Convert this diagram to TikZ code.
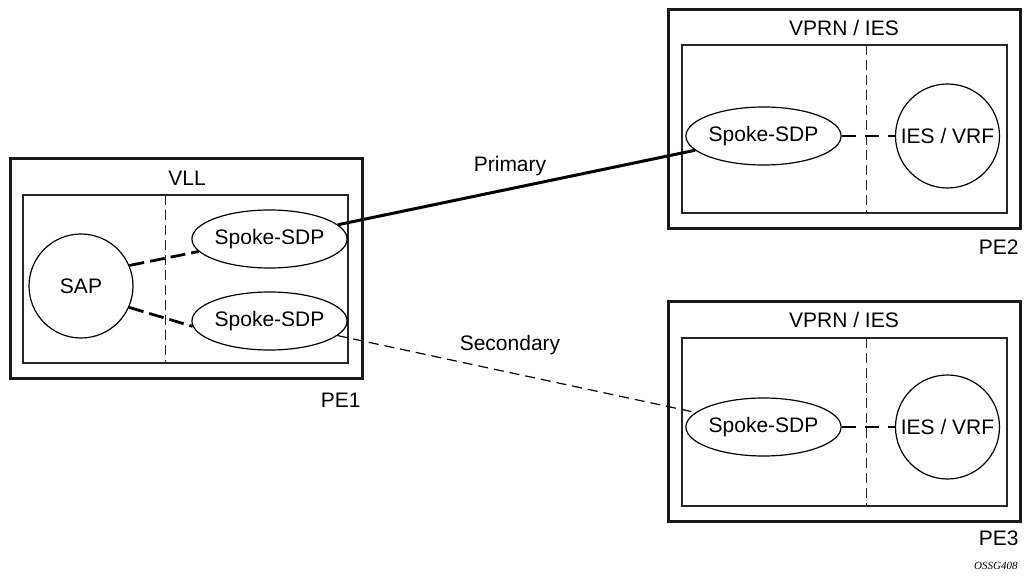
\documentclass[tikz,border=0pt]{standalone}
\usepackage{fontspec}
\setmainfont{Liberation Sans}
\newfontfamily\tagfont{Liberation Serif}
\usepackage{tikz}
\usetikzlibrary{calc}
\usetikzlibrary{shapes.geometric}
\newcommand{\BoxW}{352}
\newcommand{\BoxH}{219}
\tikzset{
  pebox/.style={draw=black!90,line width=1.5pt},
  svcbox/.style={draw=black!85,line width=0.8pt},
  divider/.style={draw=black!85,line width=0.5pt,dash pattern=on 5pt off 2.5pt},
  sdp/.style={ellipse,draw,line width=0.6pt,minimum width=71.5pt,minimum height=29pt,inner sep=0pt},
  svc/.style={circle,draw,line width=0.6pt,minimum size=52pt,inner sep=0pt},
  joinline/.style={line width=1.4pt,dash pattern=on 7.5pt off 3pt},
  txt/.style={inner sep=0pt}
}

\begin{document}
\begin{tikzpicture}[x=0.5pt,y=-0.5pt,font=\fontsize{10.5}{12.6}\selectfont]
\useasboundingbox (0,0) rectangle (1028,577);
\coordinate (P1) at (10,159);
\coordinate (P2) at (668,10);
\coordinate (P3) at (668,302);

\draw[pebox] (P1) rectangle ($(P1)+(\BoxW,\BoxH)$);% PE1 box
\draw[pebox] (P2) rectangle ($(P2)+(\BoxW,\BoxH)$);% PE2 box
\draw[pebox] (P3) rectangle ($(P3)+(\BoxW,\BoxH)$);% PE3 box

\draw[svcbox] (23,195) rectangle (348,363);% VLL
\draw[svcbox] (682,45) rectangle (1007,213);% VPRN / IES top
\draw[svcbox] (682,338) rectangle (1007,506);% VPRN / IES bottom

\draw[divider] (165,195) -- (165,363);
\draw[divider] (866,45) -- (866,213);
\draw[divider] (866,338) -- (866,506);

\node[txt] (vll) at (187,178) {VLL};
\node[txt] (vprnA) at (844,28) {VPRN / IES};
\node[txt] (vprnB) at (844,320) {VPRN / IES};

\node[txt,anchor=east] (pe1) at (361,400) {PE1};
\node[txt,anchor=east] (pe2) at (1019,247) {PE2};
\node[txt,anchor=east] (pe3) at (1019,538) {PE3};

\node[svc] (sap) at (81,286) {SAP};
\node[sdp] (sdpA) at (269.5,239) {Spoke-SDP};
\node[sdp] (sdpB) at (269.5,321) {Spoke-SDP};
\node[sdp] (sdpC) at (763.5,136) {Spoke-SDP};
\node[sdp] (sdpD) at (763.5,427) {Spoke-SDP};
\node[svc] (iesC) at (947.5,136) {IES / VRF};
\node[svc] (iesD) at (947.5,427) {IES / VRF};

\draw[joinline] (sap.23) -- (sdpA.190);
\draw[joinline] (sap.336) -- (sdpB.184);
\draw[line width=1.4pt,dash pattern=on 7pt off 4.5pt] (sdpC) -- (iesC);
\draw[line width=1.4pt,dash pattern=on 7pt off 4.5pt] (sdpD) -- (iesD);

\draw[line width=1.5pt] (sdpA) -- (sdpC);% primary
\draw[line width=0.6pt,dash pattern=on 5pt off 3pt] (sdpB) -- (sdpD);% secondary
\node[txt] (primary) at (510,166) {Primary};
\node[txt] (secondary) at (510,345) {Secondary};

\node[txt,anchor=east,font=\tagfont\itshape\fontsize{5.5}{6}\selectfont] (tag) at (1018,566) {OSSG408};
\end{tikzpicture}
\end{document}
